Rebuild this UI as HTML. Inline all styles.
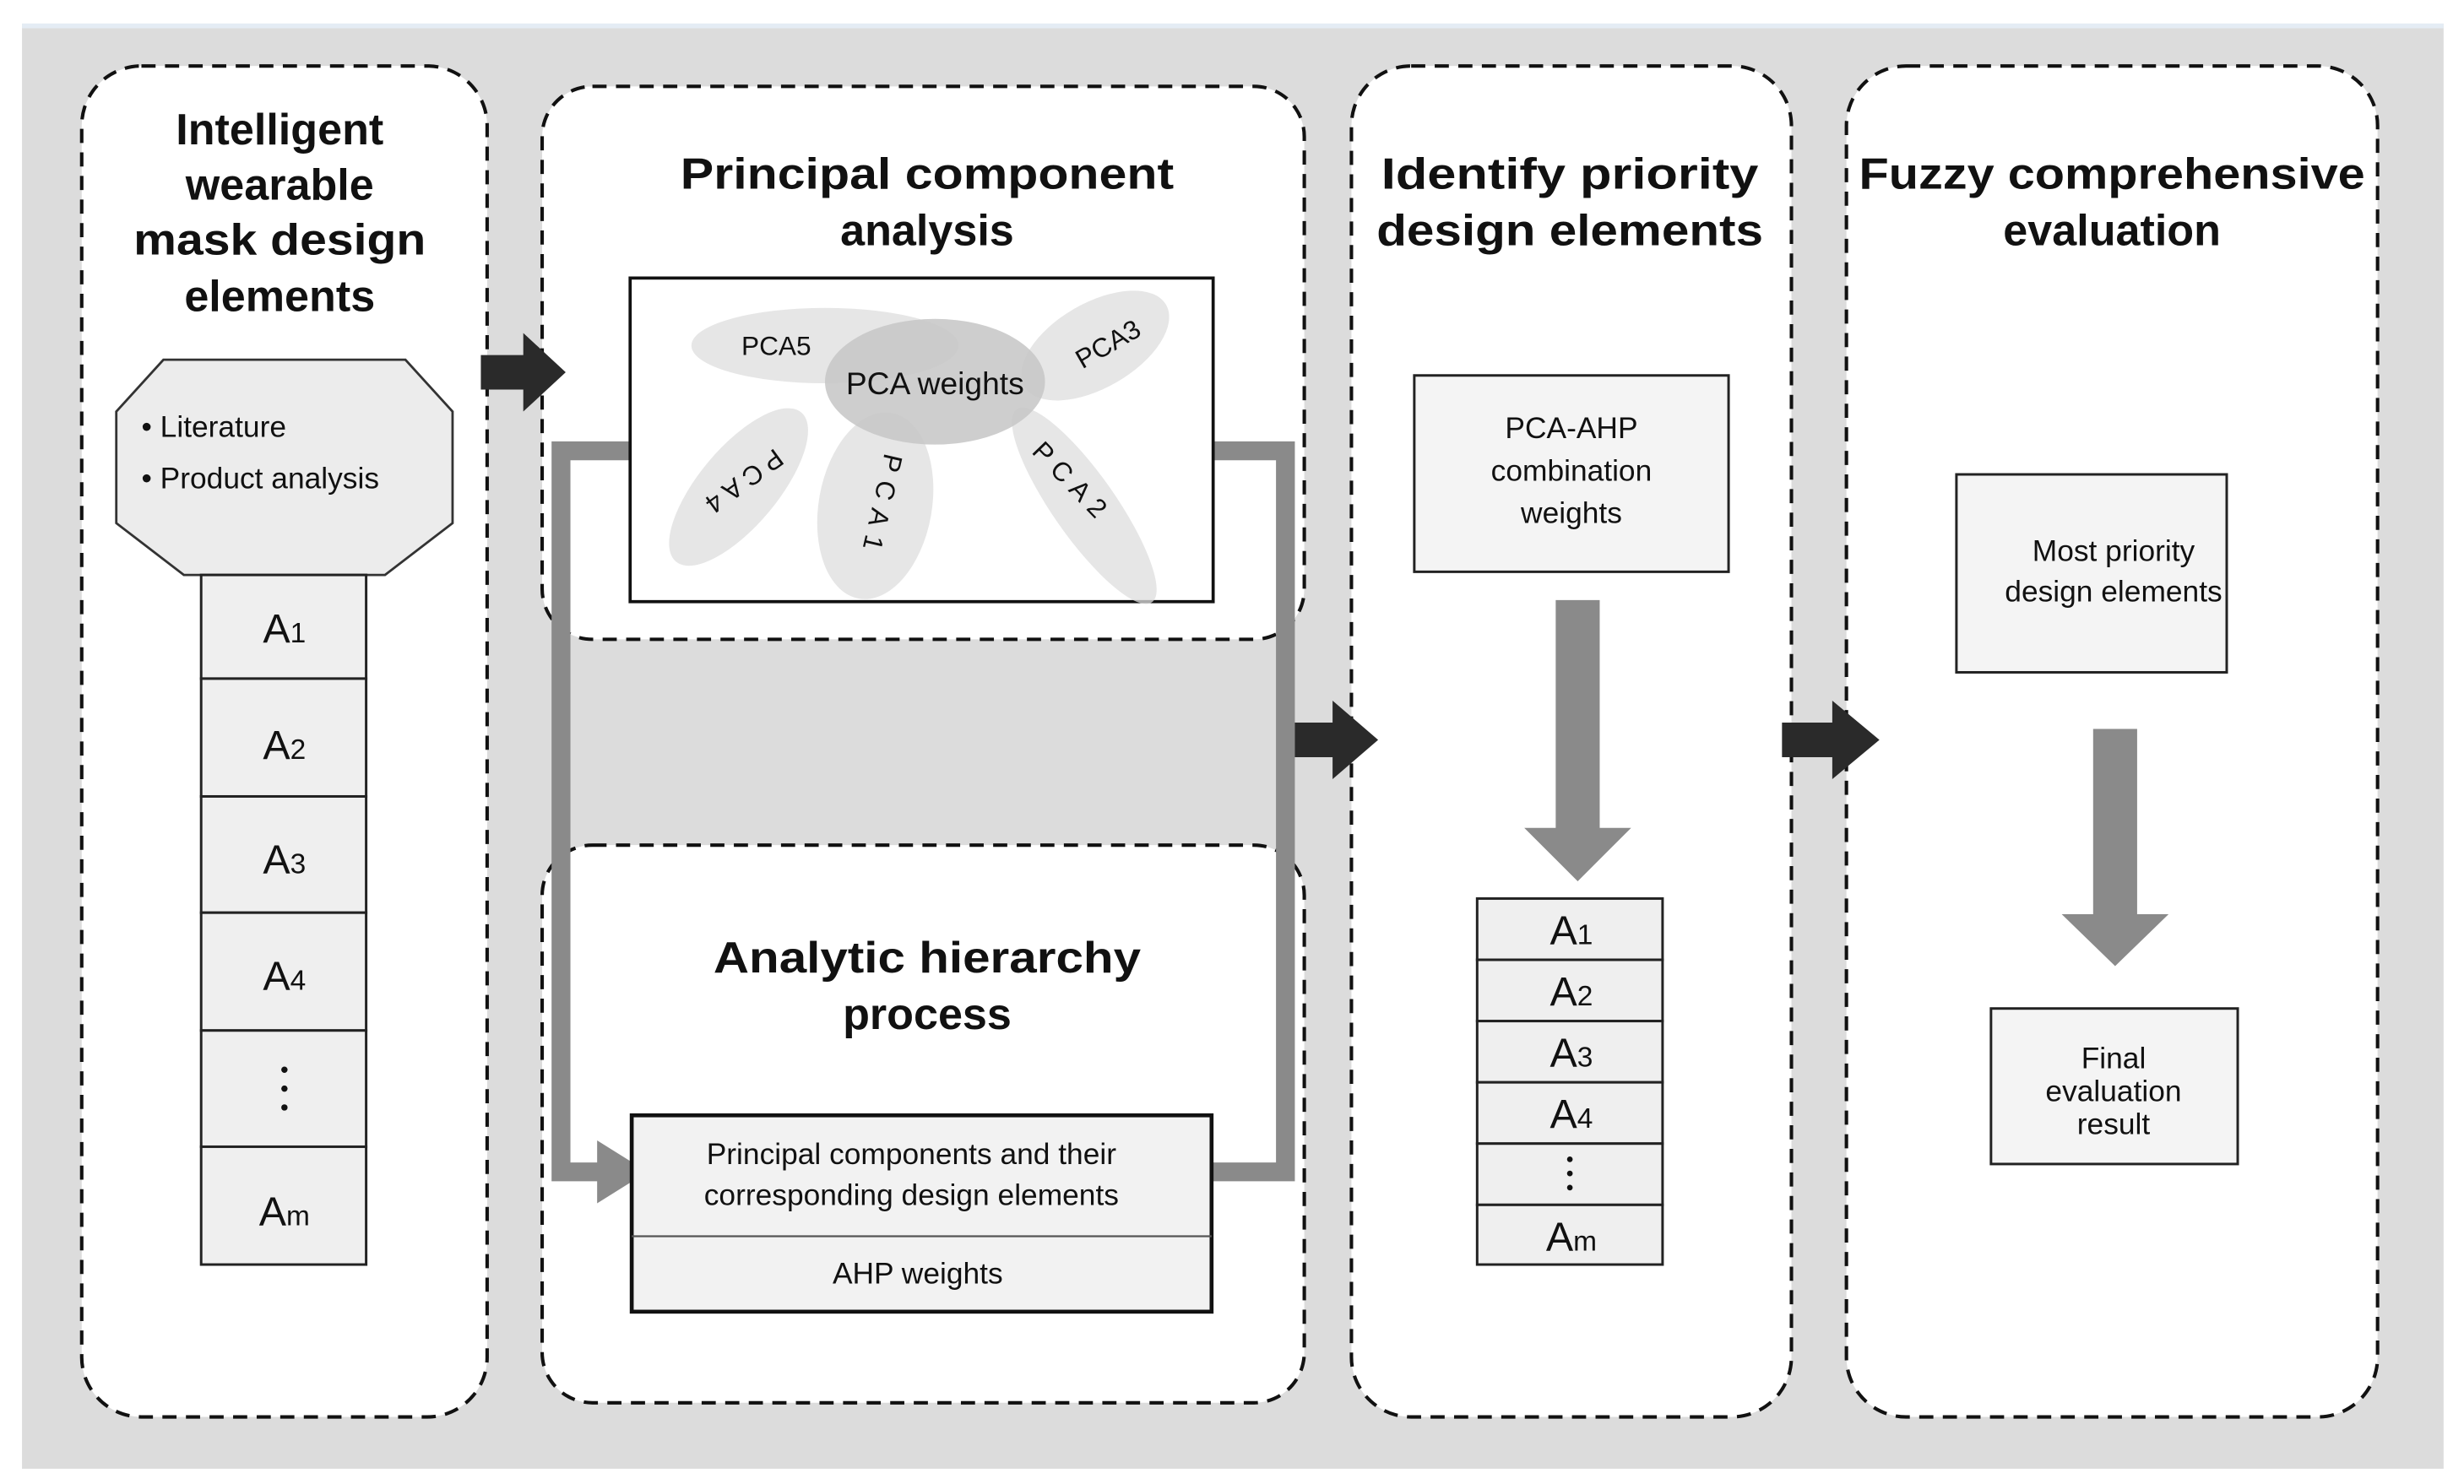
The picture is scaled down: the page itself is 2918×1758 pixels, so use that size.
<!DOCTYPE html>
<html><head><meta charset="utf-8"><style>
html,body{margin:0;padding:0;background:#fff;}
svg{display:block;}
text{font-family:"Liberation Sans",sans-serif;fill:#111;}
.t{font-size:28px;font-weight:bold;text-anchor:middle;}
.b{font-size:19px;text-anchor:middle;}
.a{font-size:26px;text-anchor:middle;}
.s{font-size:18px;}
</style></head><body>
<svg width="2918" height="1758" viewBox="0 0 1568 944.7" preserveAspectRatio="none" xmlns="http://www.w3.org/2000/svg">
<rect x="0" y="0" width="1568" height="945" fill="#fff"/>
<rect x="14" y="15" width="1541" height="920" fill="#dcdcdc"/>
<rect x="14" y="15" width="1541" height="3" fill="#e4ecf4"/>

<g fill="#fff" stroke="#111" stroke-width="2.2" stroke-dasharray="9,6">
<rect x="52" y="42" width="258" height="860" rx="38"/>
<rect x="345" y="55" width="485" height="352" rx="32"/>
<rect x="345" y="538" width="485" height="355" rx="32"/>
<rect x="860" y="42" width="280" height="860" rx="38"/>
<rect x="1175" y="42" width="338" height="860" rx="38"/>
</g>

<g fill="none" stroke="#8a8a8a" stroke-width="12">
<polyline points="402,287 357,287 357,746 385,746"/>
<polyline points="772,287 818,287 818,746 772,746"/>
</g>
<polygon points="380,726 412,746 380,766" fill="#8a8a8a"/>

<g fill="#2a2a2a">
<polygon points="306,226 333,226 333,212 360,237 333,262 333,248 306,248"/>
<polygon points="824,460 848,460 848,446 877,471 848,496 848,482 824,482"/>
<polygon points="1134,460 1166,460 1166,446 1196,471 1166,496 1166,482 1134,482"/>
</g>

<text class="t" x="178" y="92">Intelligent</text>
<text class="t" x="178" y="127">wearable</text>
<text class="t" x="178" y="162" textLength="186" lengthAdjust="spacingAndGlyphs">mask design</text>
<text class="t" x="178" y="198">elements</text>
<polygon points="104,229 258,229 288,262 288,333 245,366 117,366 74,333 74,262" fill="#ececec" stroke="#333" stroke-width="1.5"/>
<text class="b" x="90" y="278" style="text-anchor:start">• Literature</text>
<text class="b" x="90" y="311" style="text-anchor:start">• Product analysis</text>
<g fill="#efefef" stroke="#222" stroke-width="1.6">
<rect x="128" y="366" width="105" height="66"/>
<rect x="128" y="432" width="105" height="75"/>
<rect x="128" y="507" width="105" height="74"/>
<rect x="128" y="581" width="105" height="75"/>
<rect x="128" y="656" width="105" height="74"/>
<rect x="128" y="730" width="105" height="75"/>
</g>
<text class="a" x="181" y="409">A<tspan class="s">1</tspan></text>
<text class="a" x="181" y="483">A<tspan class="s">2</tspan></text>
<text class="a" x="181" y="556">A<tspan class="s">3</tspan></text>
<text class="a" x="181" y="630">A<tspan class="s">4</tspan></text>
<g fill="#111"><circle cx="181" cy="681" r="2"/><circle cx="181" cy="693" r="2"/><circle cx="181" cy="705" r="2"/></g>
<text class="a" x="181" y="780">A<tspan class="s">m</tspan></text>

<text class="t" x="590" y="120" textLength="314" lengthAdjust="spacingAndGlyphs">Principal component</text>
<text class="t" x="590" y="156">analysis</text>
<rect x="401" y="177" width="371" height="206" fill="#fff" stroke="#111" stroke-width="2"/>
<g fill="#dedede" opacity="0.75">
<ellipse cx="525" cy="220" rx="85" ry="24"/>
<ellipse cx="697" cy="220" rx="52" ry="27" transform="rotate(-30 697 220)"/>
<ellipse cx="470" cy="310" rx="62" ry="25" transform="rotate(-50 470 310)"/>
<ellipse cx="557" cy="322" rx="36" ry="60" transform="rotate(10 557 322)"/>
<ellipse cx="690" cy="322" rx="75" ry="20" transform="rotate(55 690 322)"/>
</g>
<ellipse cx="595" cy="243" rx="70" ry="40" fill="#c6c6c6" opacity="0.85"/>
<text x="494" y="226" style="font-size:17px;text-anchor:middle">PCA5</text>
<text x="595" y="251" style="font-size:20px;text-anchor:middle">PCA weights</text>
<text x="708" y="224" style="font-size:17px;text-anchor:middle" transform="rotate(-30 708 224)">PCA3</text>
<text x="493" y="285" style="font-size:17px;letter-spacing:4px" transform="rotate(144 493 285)">PCA4</text>
<text x="563" y="288" style="font-size:17px;letter-spacing:6px" transform="rotate(103 563 288)">PCA1</text>
<text x="656" y="288" style="font-size:17px;letter-spacing:5px" transform="rotate(46 656 288)">PCA2</text>

<text class="t" x="590" y="619" textLength="272" lengthAdjust="spacingAndGlyphs">Analytic hierarchy</text>
<text class="t" x="590" y="655">process</text>
<rect x="402" y="710" width="369" height="125" fill="#f2f2f2" stroke="#111" stroke-width="2.5"/>
<line x1="402" y1="787" x2="771" y2="787" stroke="#555" stroke-width="1.2"/>
<text class="b" x="580" y="741">Principal components and their</text>
<text class="b" x="580" y="767">corresponding design elements</text>
<text class="b" x="584" y="817">AHP weights</text>

<text class="t" x="999" y="120" textLength="240" lengthAdjust="spacingAndGlyphs">Identify priority</text>
<text class="t" x="999" y="156" textLength="246" lengthAdjust="spacingAndGlyphs">design elements</text>
<rect x="900" y="239" width="200" height="125" fill="#f4f4f4" stroke="#222" stroke-width="1.6"/>
<text class="b" x="1000" y="279">PCA-AHP</text>
<text class="b" x="1000" y="306">combination</text>
<text class="b" x="1000" y="333">weights</text>
<polygon points="990,382 1018,382 1018,527 1038,527 1004,561 970,527 990,527" fill="#8a8a8a"/>
<g fill="#efefef" stroke="#222" stroke-width="1.6">
<rect x="940" y="572" width="118" height="39"/>
<rect x="940" y="611" width="118" height="39"/>
<rect x="940" y="650" width="118" height="39"/>
<rect x="940" y="689" width="118" height="39"/>
<rect x="940" y="728" width="118" height="39"/>
<rect x="940" y="767" width="118" height="38"/>
</g>
<text class="a" x="1000" y="601">A<tspan class="s">1</tspan></text>
<text class="a" x="1000" y="640">A<tspan class="s">2</tspan></text>
<text class="a" x="1000" y="679">A<tspan class="s">3</tspan></text>
<text class="a" x="1000" y="718">A<tspan class="s">4</tspan></text>
<g fill="#111"><circle cx="999" cy="738" r="1.8"/><circle cx="999" cy="747" r="1.8"/><circle cx="999" cy="756" r="1.8"/></g>
<text class="a" x="1000" y="796">A<tspan class="s">m</tspan></text>

<text class="t" x="1344" y="120" textLength="322" lengthAdjust="spacingAndGlyphs">Fuzzy comprehensive</text>
<text class="t" x="1344" y="156">evaluation</text>
<rect x="1245" y="302" width="172" height="126" fill="#f4f4f4" stroke="#222" stroke-width="1.6"/>
<text class="b" x="1345" y="357">Most priority</text>
<text class="b" x="1345" y="383">design elements</text>
<polygon points="1332,464 1360,464 1360,582 1380,582 1346,615 1312,582 1332,582" fill="#8a8a8a"/>
<rect x="1267" y="642" width="157" height="99" fill="#f4f4f4" stroke="#222" stroke-width="1.6"/>
<text class="b" x="1345" y="680">Final</text>
<text class="b" x="1345" y="701">evaluation</text>
<text class="b" x="1345" y="722">result</text>
</svg>
</body></html>
